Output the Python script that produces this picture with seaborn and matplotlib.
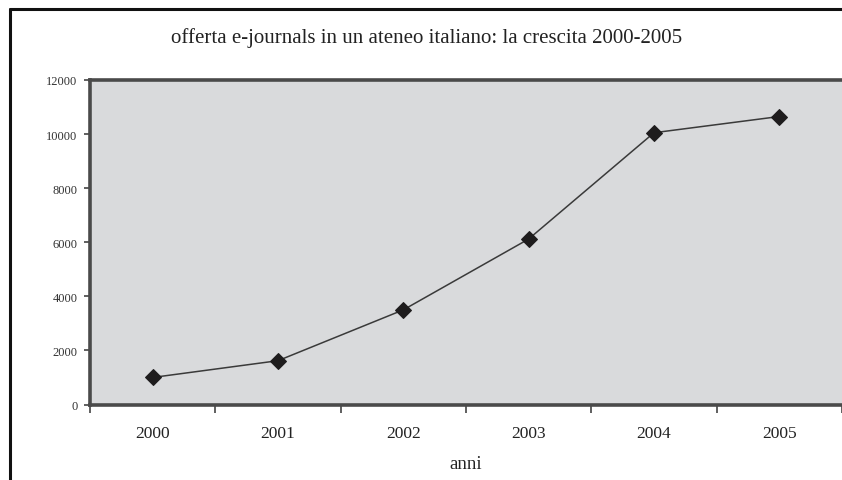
import matplotlib
matplotlib.use("Agg")
import matplotlib.pyplot as plt
from matplotlib.lines import Line2D
from matplotlib.ticker import FixedLocator
import seaborn as sns
import pandas as pd

years = ["2000", "2001", "2002", "2003", "2004", "2005"]
ejournals = [1000, 1620, 3500, 6120, 10050, 10650]
y_ticks = [0, 2000, 4000, 6000, 8000, 10000, 12000]

title = "offerta e-journals in un ateneo italiano: la crescita 2000-2005"
xlabel = "anni"

sns.set_theme(style="white")
plt.rcParams["font.family"] = ["Liberation Serif", "DejaVu Serif"]

df = pd.DataFrame({"anno": years, "valore": ejournals})

fig = plt.figure(figsize=(8.42, 4.81), dpi=100)
ax = fig.add_axes([90 / 842, 1 - 405.5 / 481, 1 - 90 / 842, (405.5 - 81) / 481])
ax.set_facecolor("#d9dadc")

sns.lineplot(data=df, x="anno", y="valore", ax=ax, color="#3a3a3a", linewidth=1.1,
             marker="D", markersize=8.3, markerfacecolor="#1e1c1d",
             markeredgecolor="#1e1c1d", sort=False)

ax.set_xlim(-0.5, 5.5)
ax.set_ylim(0, 12000)
ax.set_yticks(y_ticks)
ax.set_yticklabels([str(v) for v in y_ticks], fontsize=9, color="#333333")
ax.set_xticks(range(len(years)))
ax.set_xticklabels(years, fontsize=12.5, color="#222222")
ax.xaxis.set_minor_locator(FixedLocator([i - 0.5 for i in range(len(years) + 1)]))
ax.tick_params(axis="x", which="major", length=0, pad=15)
ax.tick_params(axis="x", which="minor", bottom=True, length=6, width=1.2, color="#444444", direction="out")
ax.tick_params(axis="y", left=True, length=4, width=1.2, color="#444444", direction="out", pad=5)

ax.set_xlabel(xlabel, fontsize=13.5, color="#222222", labelpad=10)
ax.set_ylabel("")
for side in ["top", "left", "bottom"]:
    ax.spines[side].set_visible(True)
    ax.spines[side].set_color("#4a4a4a")
    ax.spines[side].set_linewidth(2.6)
ax.spines["right"].set_visible(False)
ax.grid(False)

fig.text(427 / 842, 1 - 38 / 481, title, ha="center", va="center", fontsize=15, color="#222222")

# outer frame lines
fig.add_artist(Line2D([9.5 / 842, 9.5 / 842], [0, 1 - 10 / 481], color="#111111", linewidth=2.2,
                      transform=fig.transFigure))
fig.add_artist(Line2D([9.5 / 842, 1], [1 - 10 / 481, 1 - 10 / 481], color="#111111", linewidth=2.2,
                      transform=fig.transFigure))

fig.savefig("out.png", dpi=100)
